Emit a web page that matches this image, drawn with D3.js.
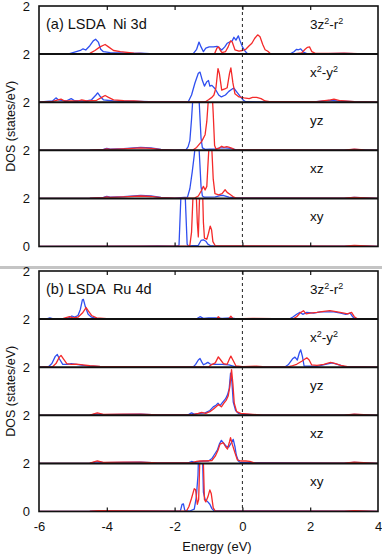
<!DOCTYPE html>
<html><head><meta charset="utf-8">
<script src="https://cdn.jsdelivr.net/npm/d3@7"></script>
<style>
html,body{margin:0;padding:0;background:#fff;}
svg{display:block;font-family:"Liberation Sans",Arial,sans-serif;}
</style></head>
<body>
<svg id="c" width="382" height="556"></svg>
<script>
// ---------------- data ----------------
const xTicks = [-6, -4, -2, 0, 2, 4];
const orbitals = ["3z\u00b2-r\u00b2", "x\u00b2-y\u00b2", "yz", "xz", "xy"];
const panelTitles = ["(a) LSDA  Ni 3d", "(b) LSDA  Ru 4d"];

// Ni 3d, spin up (blue) / spin down (red)
const niZ2Up = [[-6,0],[-5.75,0.02],[-5.1,0.02],[-4.95,0.08],[-4.78,0.15],[-4.7,0.22],[-4.62,0.17],[-4.5,0.35],[-4.4,0.55],[-4.33,0.62],[-4.25,0.5],[-4.18,0.2],[-4.1,0.1],[-3.9,0.06],[-3.6,0.05],[-3.3,0.03],[-3.0,0.04],[-2.6,0.01],[-1.8,0.02],[-1.45,0.02],[-1.35,0.2],[-1.28,0.5],[-1.22,0.3],[-1.15,0.1],[-1.08,0.25],[-0.98,0.3],[-0.85,0.3],[-0.75,0.32],[-0.68,0.25],[-0.61,0.17],[-0.52,0.3],[-0.45,0.45],[-0.38,0.5],[-0.3,0.55],[-0.25,0.7],[-0.19,0.58],[-0.12,0.76],[-0.07,0.55],[0.0,0.3],[0.08,0.12],[0.15,0.02],[1.4,0.0],[1.52,0.1],[1.6,0.2],[1.65,0.18],[1.72,0.22],[1.8,0.08],[1.9,0.02],[2.5,0.02],[3.0,0.03],[3.3,0.02],[4,0]];
const niZ2Dn = [[-6,0],[-5.0,0.02],[-4.5,0.03],[-4.35,0.15],[-4.2,0.3],[-4.05,0.4],[-3.95,0.3],[-3.8,0.15],[-3.6,0.1],[-3.4,0.07],[-3.2,0.04],[-2.9,0.02],[-1.0,0.01],[-0.82,0.02],[-0.75,0.25],[-0.7,0.3],[-0.65,0.15],[-0.6,0.06],[-0.5,0.1],[-0.42,0.3],[-0.35,0.55],[-0.3,0.5],[-0.22,0.18],[-0.1,0.12],[0.0,0.15],[0.1,0.2],[0.2,0.35],[0.28,0.45],[0.36,0.65],[0.45,0.8],[0.52,0.72],[0.6,0.4],[0.67,0.18],[0.75,0.12],[0.82,0.03],[1.5,0.01],[1.75,0.05],[1.85,0.2],[1.92,0.28],[1.98,0.3],[2.05,0.1],[2.15,0.03],[2.6,0.03],[3.0,0.04],[3.4,0.02],[4,0]];
const niX2Up = [[-6,0],[-5.78,0.03],[-5.6,0.05],[-5.5,0.18],[-5.43,0.1],[-5.2,0.05],[-5.05,0.15],[-4.95,0.06],[-4.6,0.05],[-4.45,0.1],[-4.32,0.3],[-4.27,0.39],[-4.2,0.25],[-4.1,0.1],[-3.8,0.05],[-3.0,0.03],[-2.5,0.01],[-1.6,0.01],[-1.5,0.3],[-1.4,0.8],[-1.3,1.2],[-1.25,1.25],[-1.18,0.9],[-1.12,0.67],[-1.05,0.85],[-1.0,0.9],[-0.96,0.67],[-0.9,0.7],[-0.8,0.55],[-0.7,0.3],[-0.62,0.22],[-0.5,0.3],[-0.4,0.45],[-0.3,0.55],[-0.25,0.58],[-0.18,0.45],[-0.07,0.25],[0.03,0.08],[0.1,0.02],[2.0,0.0],[2.6,0.08],[2.8,0.05],[3.3,0.02],[4,0]];
const niX2Dn = [[-6,0],[-5.6,0.03],[-5.35,0.13],[-5.25,0.05],[-4.85,0.05],[-4.74,0.1],[-4.6,0.05],[-4.3,0.08],[-4.15,0.2],[-4.05,0.28],[-3.95,0.2],[-3.8,0.1],[-3.5,0.06],[-3.2,0.05],[-2.9,0.02],[-1.1,0.01],[-1.0,0.1],[-0.9,0.2],[-0.84,0.3],[-0.78,0.6],[-0.72,1.4],[-0.68,1.2],[-0.61,0.5],[-0.52,0.55],[-0.45,0.6],[-0.38,1.2],[-0.34,1.43],[-0.28,0.8],[-0.22,0.35],[-0.1,0.22],[0.05,0.18],[0.2,0.15],[0.3,0.2],[0.42,0.2],[0.55,0.15],[0.67,0.05],[0.8,0.02],[2.2,0.02],[2.6,0.1],[2.7,0.13],[2.9,0.06],[3.3,0.02],[4,0]];
const niYzUp = [[-6,0],[-4.5,0.01],[-4.1,0.04],[-4.0,0.08],[-3.9,0.05],[-3.5,0.07],[-3.0,0.12],[-2.7,0.1],[-2.4,0.04],[-2.0,0.01],[-1.66,0.03],[-1.6,0.15],[-1.55,0.4],[-1.5,1.3],[-1.46,2.2],[-1.38,3.0],[-1.3,2.7],[-1.26,1.6],[-1.22,0.5],[-1.18,0.1],[-1.1,0.04],[-0.8,0.06],[-0.65,0.1],[-0.5,0.1],[-0.35,0.08],[-0.2,0.03],[0.0,0.01],[3.0,0.01],[3.3,0.04],[3.6,0.02],[4,0]];
const niYzDn = [[-6,0],[-4.5,0.01],[-4.1,0.03],[-4.0,0.06],[-3.9,0.04],[-3.5,0.06],[-3.0,0.1],[-2.7,0.08],[-2.4,0.03],[-2.0,0.01],[-1.45,0.02],[-1.35,0.12],[-1.2,0.37],[-1.1,0.65],[-1.05,1.2],[-1.0,2.2],[-0.95,3.0],[-0.9,2.6],[-0.86,1.5],[-0.82,0.2],[-0.78,0.05],[-0.7,0.08],[-0.61,0.17],[-0.55,0.12],[-0.46,0.15],[-0.38,0.12],[-0.3,0.08],[-0.22,0.02],[3.0,0.01],[3.3,0.05],[3.6,0.02],[4,0]];
const niXzUp = [[-6,0],[-4.5,0.01],[-4.1,0.04],[-4.0,0.08],[-3.9,0.05],[-3.5,0.07],[-3.0,0.12],[-2.7,0.1],[-2.4,0.04],[-2.0,0.01],[-1.62,0.05],[-1.55,0.4],[-1.48,1.1],[-1.42,1.8],[-1.36,2.6],[-1.3,2.6],[-1.26,1.6],[-1.22,0.5],[-1.18,0.1],[-1.12,0.05],[-0.8,0.06],[-0.65,0.12],[-0.55,0.12],[-0.4,0.05],[-0.2,0.02],[3.0,0.01],[3.3,0.04],[4,0]];
const niXzDn = [[-6,0],[-4.5,0.01],[-4.1,0.03],[-4.0,0.06],[-3.9,0.04],[-3.5,0.06],[-3.0,0.1],[-2.7,0.08],[-2.4,0.03],[-2.0,0.01],[-1.4,0.02],[-1.3,0.1],[-1.2,0.35],[-1.15,0.5],[-1.1,0.35],[-1.05,0.5],[-1.02,1.3],[-0.98,2.3],[-0.94,2.8],[-0.9,2.0],[-0.86,0.8],[-0.81,0.2],[-0.7,0.15],[-0.6,0.2],[-0.51,0.36],[-0.45,0.25],[-0.35,0.15],[-0.25,0.05],[-0.18,0.01],[3.0,0.01],[3.3,0.04],[4,0]];
const niXyUp = [[-6,0],[-3.0,0.01],[-2.5,0.02],[-2.0,0.01],[-1.9,0.02],[-1.87,0.05],[-1.83,1.5],[-1.8,2.6],[-1.75,3.0],[-1.7,2.6],[-1.67,1.5],[-1.63,0.1],[-1.6,0.03],[-1.3,0.05],[-1.22,0.25],[-1.15,0.28],[-1.08,0.22],[-1.02,0.1],[-0.95,0.04],[-0.8,0.01],[3.0,0.01],[3.3,0.04],[4,0]];
const niXyDn = [[-6,0],[-2.5,0.01],[-1.6,0.01],[-1.55,0.05],[-1.5,0.6],[-1.46,2.0],[-1.42,3.0],[-1.37,2.5],[-1.33,1.0],[-1.3,0.4],[-1.27,1.8],[-1.23,3.0],[-1.18,2.6],[-1.15,1.0],[-1.12,0.35],[-1.05,0.3],[-1.0,0.55],[-0.95,0.85],[-0.91,0.7],[-0.87,0.2],[-0.8,0.03],[3.0,0.01],[3.3,0.05],[4,0]];

// Ru 4d, spin up (blue) / spin down (red)
const ruZ2Up = [[-6,0],[-5.75,0.02],[-5.68,0.05],[-5.6,0.02],[-5.15,0.03],[-5.03,0.13],[-4.95,0.08],[-4.85,0.15],[-4.78,0.4],[-4.72,0.8],[-4.69,0.82],[-4.63,0.5],[-4.55,0.2],[-4.45,0.08],[-4.3,0.03],[-3.5,0.02],[-1.35,0.01],[-1.25,0.1],[-1.15,0.03],[-1.0,0.05],[-0.8,0.05],[-0.6,0.03],[-0.35,0.05],[-0.2,0.02],[1.4,0.01],[1.5,0.1],[1.6,0.2],[1.7,0.28],[1.78,0.2],[1.9,0.28],[2.1,0.25],[2.3,0.3],[2.5,0.3],[2.7,0.3],[2.9,0.25],[3.05,0.2],[3.18,0.25],[3.25,0.1],[3.32,0.02],[4,0]];
const ruZ2Dn = [[-6,0],[-5.7,0.02],[-5.3,0.02],[-5.1,0.1],[-5.0,0.05],[-4.85,0.08],[-4.72,0.25],[-4.61,0.48],[-4.55,0.35],[-4.45,0.15],[-4.3,0.05],[-4.0,0.02],[-1.3,0.01],[-0.75,0.02],[-0.71,0.1],[-0.65,0.02],[-0.4,0.02],[-0.34,0.12],[-0.28,0.02],[0.0,0.02],[0.3,0.03],[1.5,0.01],[1.6,0.1],[1.7,0.25],[1.8,0.35],[1.88,0.22],[2.0,0.25],[2.2,0.28],[2.4,0.32],[2.58,0.35],[2.8,0.3],[3.0,0.25],[3.1,0.22],[3.22,0.28],[3.3,0.1],[3.38,0.02],[4,0]];
const ruX2Up = [[-6,0],[-5.72,0.02],[-5.62,0.15],[-5.52,0.45],[-5.46,0.53],[-5.4,0.35],[-5.3,0.12],[-5.15,0.12],[-5.05,0.15],[-4.9,0.12],[-4.7,0.08],[-4.5,0.05],[-4.2,0.02],[-3.5,0.01],[-1.45,0.01],[-1.38,0.12],[-1.3,0.3],[-1.25,0.36],[-1.2,0.22],[-1.15,0.1],[-1.08,0.15],[-1.02,0.2],[-0.95,0.13],[-0.8,0.12],[-0.6,0.12],[-0.4,0.1],[-0.22,0.02],[1.25,0.01],[1.35,0.1],[1.48,0.35],[1.55,0.42],[1.62,0.3],[1.68,0.6],[1.72,0.72],[1.77,0.45],[1.82,0.05],[2.2,0.03],[2.45,0.12],[2.65,0.18],[2.85,0.1],[3.0,0.03],[4,0]];
const ruX2Dn = [[-6,0],[-5.6,0.02],[-5.5,0.15],[-5.4,0.42],[-5.35,0.49],[-5.28,0.35],[-5.18,0.15],[-5.05,0.12],[-4.9,0.13],[-4.7,0.1],[-4.5,0.06],[-4.2,0.03],[-3.8,0.02],[-1.0,0.01],[-0.92,0.1],[-0.8,0.18],[-0.71,0.43],[-0.64,0.3],[-0.56,0.15],[-0.45,0.12],[-0.38,0.35],[-0.34,0.46],[-0.28,0.3],[-0.19,0.05],[0.0,0.02],[0.4,0.04],[0.6,0.02],[1.35,0.01],[1.45,0.05],[1.6,0.12],[1.75,0.25],[1.9,0.39],[1.97,0.3],[2.04,0.1],[2.2,0.08],[2.4,0.12],[2.6,0.2],[2.75,0.15],[2.9,0.08],[3.1,0.02],[4,0]];
const ruYzUp = [[-6,0],[-4.5,0.01],[-4.3,0.06],[-4.1,0.03],[-3.5,0.04],[-3.0,0.05],[-2.5,0.02],[-1.6,0.02],[-1.5,0.1],[-1.42,0.05],[-1.25,0.08],[-1.1,0.1],[-0.96,0.2],[-0.86,0.35],[-0.78,0.42],[-0.72,0.5],[-0.66,0.4],[-0.58,0.55],[-0.5,0.68],[-0.44,0.85],[-0.39,1.1],[-0.35,1.75],[-0.31,1.4],[-0.27,0.55],[-0.2,0.2],[-0.12,0.08],[0.0,0.05],[0.3,0.03],[0.5,0.01],[3.0,0.01],[3.3,0.04],[4,0]];
const ruYzDn = [[-6,0],[-4.5,0.01],[-4.28,0.1],[-4.1,0.04],[-3.5,0.05],[-3.0,0.05],[-2.5,0.02],[-1.5,0.02],[-1.3,0.08],[-1.2,0.12],[-1.08,0.08],[-0.96,0.15],[-0.86,0.25],[-0.76,0.38],[-0.7,0.45],[-0.62,0.35],[-0.55,0.5],[-0.48,0.62],[-0.42,0.8],[-0.37,1.2],[-0.32,1.9],[-0.28,1.3],[-0.24,0.5],[-0.17,0.15],[-0.05,0.08],[0.2,0.05],[0.42,0.03],[0.6,0.01],[3.0,0.01],[3.3,0.05],[4,0]];
const ruXzUp = [[-6,0],[-4.5,0.01],[-4.3,0.06],[-4.1,0.03],[-3.5,0.04],[-3.0,0.05],[-2.5,0.02],[-1.6,0.02],[-1.5,0.08],[-1.4,0.04],[-1.15,0.1],[-1.0,0.1],[-0.9,0.2],[-0.82,0.38],[-0.74,0.55],[-0.68,0.8],[-0.62,0.96],[-0.56,0.85],[-0.48,0.72],[-0.4,0.68],[-0.33,0.85],[-0.27,1.0],[-0.22,0.7],[-0.18,0.35],[-0.12,0.1],[-0.05,0.03],[3.0,0.01],[3.3,0.04],[4,0]];
const ruXzDn = [[-6,0],[-4.5,0.01],[-4.28,0.1],[-4.1,0.04],[-3.5,0.05],[-3.0,0.05],[-2.5,0.02],[-1.5,0.02],[-1.35,0.08],[-1.25,0.1],[-1.1,0.1],[-0.9,0.12],[-0.8,0.3],[-0.72,0.55],[-0.66,0.8],[-0.56,0.86],[-0.5,0.7],[-0.44,0.6],[-0.38,0.9],[-0.35,1.07],[-0.3,0.8],[-0.22,0.44],[-0.15,0.15],[-0.05,0.1],[0.1,0.1],[0.22,0.08],[0.35,0.02],[3.0,0.01],[3.3,0.05],[4,0]];
const ruXyUp = [[-6,0],[-4.5,0.01],[-4.25,0.03],[-2.0,0.01],[-1.83,0.02],[-1.78,0.3],[-1.74,0.32],[-1.7,0.05],[-1.55,0.02],[-1.42,0.1],[-1.36,0.6],[-1.31,1.5],[-1.28,3.0],[-1.22,3.0],[-1.18,2.5],[-1.15,0.8],[-1.1,0.5],[-1.02,0.4],[-0.96,0.3],[-0.9,0.12],[-0.84,0.03],[3.0,0.01],[3.3,0.03],[4,0]];
const ruXyDn = [[-6,0],[-4.5,0.01],[-4.25,0.04],[-2.0,0.01],[-1.65,0.02],[-1.58,0.2],[-1.5,0.55],[-1.42,0.95],[-1.38,0.9],[-1.33,0.3],[-1.29,0.5],[-1.26,2.0],[-1.22,3.0],[-1.18,3.0],[-1.15,2.0],[-1.12,0.5],[-1.08,0.4],[-1.02,0.6],[-0.96,0.9],[-0.92,0.75],[-0.86,0.15],[-0.8,0.02],[3.0,0.01],[3.3,0.04],[4,0]];

const panelData = [
  [[niZ2Up, niZ2Dn], [niX2Up, niX2Dn], [niYzUp, niYzDn], [niXzUp, niXzDn], [niXyUp, niXyDn]],
  [[ruZ2Up, ruZ2Dn], [ruX2Up, ruX2Dn], [ruYzUp, ruYzDn], [ruXzUp, ruXzDn], [ruXyUp, ruXyDn]]
];

// ---------------- layout ----------------
const svg = d3.select("#c");
const left = 39, right = 378;
const panelTops = [6, 271];
const subH = 48.1;
const colors = ["#2f4ff0", "#f42a2a"];
const x = d3.scaleLinear().domain([-6, 4]).range([left, right]);

// separator band between the two figures
svg.append("rect").attr("x", 0).attr("y", 266).attr("width", 382).attr("height", 3).attr("fill", "#c4c4c4");

panelData.forEach((subs, pi) => {
  const top = panelTops[pi];
  const bottom = top + subH * 5;
  const g = svg.append("g");

  subs.forEach((pair, si) => {
    const sTop = top + subH * si;
    const y = d3.scaleLinear().domain([0, 2]).range([sTop + subH, sTop]);
    const cid = `clip${pi}_${si}`;
    svg.append("clipPath").attr("id", cid).append("rect")
      .attr("x", left).attr("y", sTop).attr("width", right - left).attr("height", subH);
    const line = d3.line().x(d => x(d[0])).y(d => y(d[1]));
    const cg = g.append("g").attr("clip-path", `url(#${cid})`);
    pair.forEach((series, k) => {
      cg.append("path").attr("d", line(series)).attr("fill", "none")
        .attr("stroke", colors[k]).attr("stroke-width", 1.3).attr("stroke-linejoin", "round");
    });
    // orbital label
    const lbl = orbitals[si];
    const t = g.append("text").attr("x", 310).attr("y", sTop + 23).attr("font-size", 13.5).attr("fill", "#111");
    lbl.split(/(\u00b2)/).forEach(part => {
      if (part === "\u00b2") {
        t.append("tspan").attr("baseline-shift", "super").attr("font-size", 9).text("2");
      } else if (part.length) {
        t.append("tspan").text(part);
      }
    });
    // y tick label "2"
    g.append("text").attr("x", 30).attr("y", sTop + 4.5).attr("text-anchor", "end")
      .attr("font-size", 13).attr("fill", "#111").text("2");
  });

  // "0" label at panel bottom
  g.append("text").attr("x", 30).attr("y", bottom + 4.5).attr("text-anchor", "end")
    .attr("font-size", 13).attr("fill", "#111").text("0");

  // Fermi level dashed line
  g.append("line").attr("x1", x(0)).attr("x2", x(0)).attr("y1", top).attr("y2", bottom)
    .attr("stroke", "#222").attr("stroke-width", 1).attr("stroke-dasharray", "3,3");

  // dividers
  for (let i = 1; i < 5; i++) {
    g.append("line").attr("x1", left).attr("x2", right)
      .attr("y1", top + subH * i).attr("y2", top + subH * i)
      .attr("stroke", "#111").attr("stroke-width", 2);
  }

  // inward ticks top and bottom via axes
  const tickVals = xTicks.slice(1, -1);
  const axTop = d3.axisBottom(x).tickValues(tickVals).tickSize(4).tickFormat("");
  const axBot = d3.axisTop(x).tickValues(tickVals).tickSize(4).tickFormat("");
  const gt = g.append("g").attr("transform", `translate(0,${top})`).call(axTop);
  const gb = g.append("g").attr("transform", `translate(0,${bottom})`).call(axBot);
  [gt, gb].forEach(a => {
    a.select(".domain").remove();
    a.selectAll(".tick line").attr("stroke", "#111").attr("stroke-width", 1.2);
  });

  // frame
  g.append("rect").attr("x", left).attr("y", top).attr("width", right - left).attr("height", bottom - top)
    .attr("fill", "none").attr("stroke", "#111").attr("stroke-width", 1.6);

  // title
  g.append("text").attr("x", 46).attr("y", top + 23).attr("font-size", 14.5).attr("fill", "#111")
    .attr("xml:space", "preserve").style("white-space", "pre").text(panelTitles[pi]);

  // y axis title
  g.append("text").attr("transform", `translate(15,${(top + bottom) / 2}) rotate(-90)`)
    .attr("text-anchor", "middle").attr("font-size", 12.5).attr("fill", "#111").text("DOS (states/eV)");
});

// bottom x tick labels
const axLbl = d3.axisBottom(x).tickValues(xTicks).tickSize(0).tickPadding(10).tickFormat(d3.format("d"));
const gl = svg.append("g").attr("transform", `translate(0,${panelTops[1] + subH * 5})`).call(axLbl);
gl.select(".domain").remove();
gl.selectAll(".tick text").attr("font-size", 13).attr("fill", "#111")
  .attr("font-family", "'Liberation Sans',Arial,sans-serif").text(d => d < 0 ? "-" + Math.abs(d) : d);

svg.append("text").attr("x", 217).attr("y", 551).attr("text-anchor", "middle")
  .attr("font-size", 13).attr("fill", "#111").text("Energy (eV)");
</script>
</body></html>
